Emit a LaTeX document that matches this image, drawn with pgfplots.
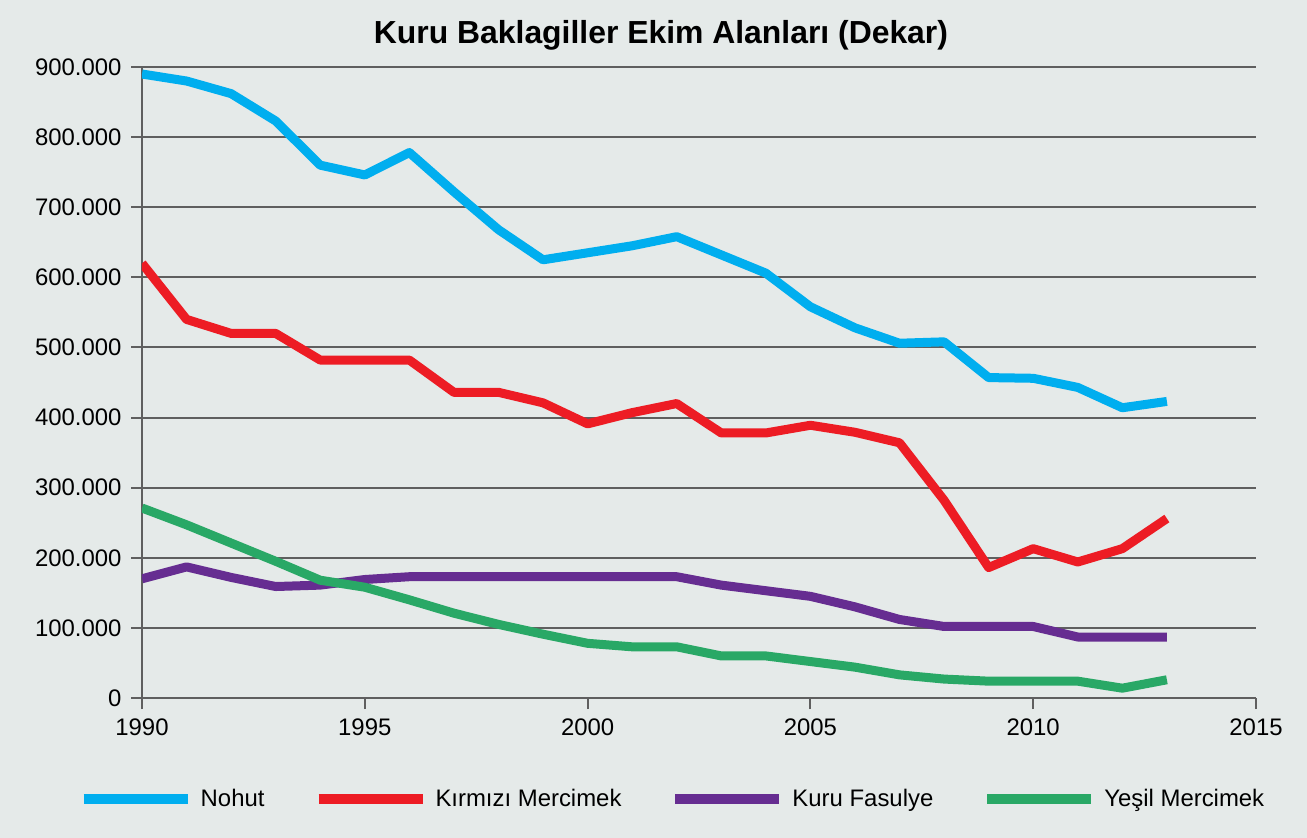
\documentclass[border=0pt]{standalone}
\usepackage{fontspec}
\setmainfont{Liberation Sans}
\usepackage{pgfplots}
\pgfplotsset{compat=1.18}
\definecolor{bg}{RGB}{229,234,233}
\definecolor{gridc}{RGB}{95,95,95}
\definecolor{cnohut}{RGB}{0,174,239}
\definecolor{ckirmizi}{RGB}{237,28,36}
\definecolor{cfasulye}{RGB}{102,45,145}
\definecolor{cyesil}{RGB}{41,168,102}
\begin{document}
\begin{tikzpicture}
\fill[bg] (-142bp,-140bp) rectangle (1165bp,698bp);
\begin{axis}[
  scale only axis, width=1114bp, height=631bp,
  xmin=1990, xmax=2015, ymin=0, ymax=900000,
  axis lines*=left,
  axis line style={gridc, line width=2bp},
  xtick={1990,1995,2000,2005,2010,2015},
  xticklabels={1990,1995,2000,2005,2010,2015},
  ytick={0,100000,200000,300000,400000,500000,600000,700000,800000,900000},
  yticklabels={0,100.000,200.000,300.000,400.000,500.000,600.000,700.000,800.000,900.000},
  ymajorgrids,
  major grid style={gridc, line width=2bp},
  tick align=outside,
  major tick length=11bp,
  tick style={gridc, line width=2bp},
  ticklabel style={font=\fontsize{24}{24}\selectfont, text=black},
  xticklabel style={yshift=-6bp},
  yticklabel style={xshift=-6bp},
  scaled y ticks=false,
  legend style={at={(0.4762,-0.160)}, anchor=center, draw=none, fill=none,
    legend columns=4, font=\fontsize{24}{24}\selectfont,
    /tikz/every odd column/.append style={column sep=6bp},
    /tikz/every even column/.append style={column sep=47bp}},
  legend image code/.code={\draw[#1, line width=10bp, line cap=butt] (0bp,0bp) -- (104bp,0bp);},
  every axis plot/.append style={line width=9bp, line join=round, line cap=butt},
]
\addplot[cnohut] coordinates {
(1990,890000) (1991,880000) (1992,862000) (1993,823000) (1994,760000)
(1995,746000) (1996,778000) (1997,722000) (1998,668000) (1999,625000)
(2000,635000) (2001,645000) (2002,658000) (2003,632000) (2004,606000)
(2005,558000) (2006,528000) (2007,506000) (2008,508000) (2009,457000)
(2010,456000) (2011,443000) (2012,414000) (2013,423000)};
\addlegendentry{Nohut}
\addplot[ckirmizi] coordinates {
(1990,620000) (1991,540000) (1992,520000) (1993,520000) (1994,482000)
(1995,482000) (1996,482000) (1997,436000) (1998,436000) (1999,421000)
(2000,391000) (2001,407000) (2002,420000) (2003,378000) (2004,378000)
(2005,389000) (2006,379000) (2007,364000) (2008,282000) (2009,186000)
(2010,213000) (2011,194000) (2012,213000) (2013,256000)};
\addlegendentry{Kırmızı Mercimek}
\addplot[cfasulye] coordinates {
(1990,170000) (1991,187000) (1992,172000) (1993,159000) (1994,161000)
(1995,169000) (1996,173000) (1997,173000) (1998,173000) (1999,173000)
(2000,173000) (2001,173000) (2002,173000) (2003,161000) (2004,153000)
(2005,145000) (2006,130000) (2007,112000) (2008,102000) (2009,102000)
(2010,102000) (2011,87000) (2012,87000) (2013,87000)};
\addlegendentry{Kuru Fasulye}
\addplot[cyesil] coordinates {
(1990,271000) (1991,247000) (1992,221000) (1993,195000) (1994,168000)
(1995,158000) (1996,140000) (1997,121000) (1998,105000) (1999,91000)
(2000,78000) (2001,73000) (2002,73000) (2003,60000) (2004,60000)
(2005,52000) (2006,44000) (2007,33000) (2008,27000) (2009,24000)
(2010,24000) (2011,24000) (2012,14000) (2013,26000)};
\addlegendentry{Yeşil Mercimek}
\end{axis}
\node[font=\bfseries\fontsize{32}{32}\selectfont] at (519bp,663bp) {Kuru Baklagiller Ekim Alanları (Dekar)};
\end{tikzpicture}
\end{document}
